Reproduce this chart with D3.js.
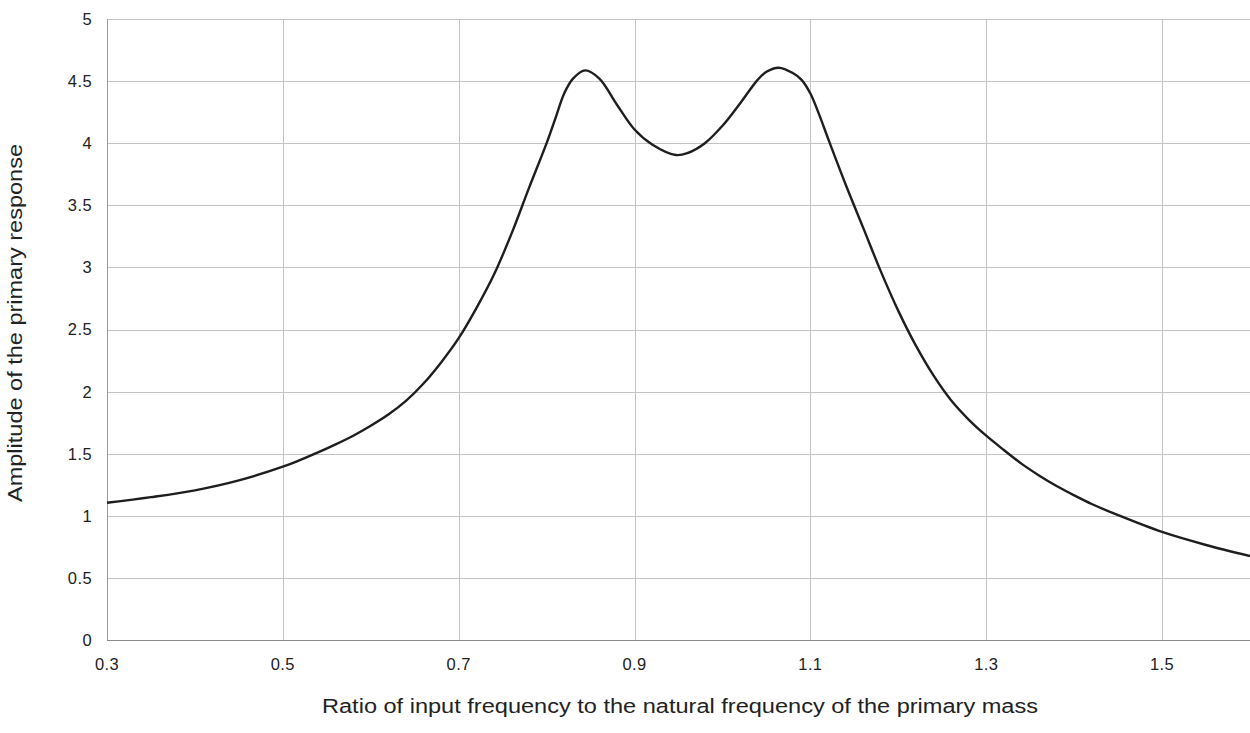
<!DOCTYPE html>
<html>
<head>
<meta charset="utf-8">
<script src="https://cdn.jsdelivr.net/npm/d3@7"></script>
<style>
  html, body { margin: 0; padding: 0; background: #fff; }
  svg { display: block; font-family: "Liberation Sans", Arial, Helvetica, sans-serif; }
</style>
</head>
<body>
<svg id="chart" width="1250" height="733"></svg>
<script>
// Data
const frequencyRatio = [0.30, 0.35, 0.40, 0.45, 0.50, 0.52, 0.54, 0.56, 0.58, 0.60, 0.62, 0.64, 0.66, 0.68, 0.70, 0.72, 0.74, 0.76, 0.78, 0.80, 0.81, 0.82, 0.83, 0.844, 0.86, 0.88, 0.90, 0.92, 0.947, 0.96, 0.98, 1.00, 1.02, 1.04, 1.05, 1.064, 1.08, 1.09, 1.10, 1.11, 1.12, 1.14, 1.16, 1.18, 1.20, 1.22, 1.24, 1.26, 1.28, 1.30, 1.32, 1.34, 1.36, 1.38, 1.40, 1.42, 1.45, 1.50, 1.55, 1.60];
const amplitude = [1.105, 1.15, 1.205, 1.285, 1.395, 1.45, 1.51, 1.575, 1.645, 1.725, 1.815, 1.925, 2.065, 2.235, 2.43, 2.67, 2.94, 3.27, 3.64, 4.00, 4.20, 4.40, 4.52, 4.586, 4.52, 4.31, 4.11, 3.99, 3.905, 3.92, 4.0, 4.14, 4.32, 4.51, 4.575, 4.608, 4.565, 4.51, 4.40, 4.23, 4.04, 3.67, 3.32, 2.97, 2.65, 2.37, 2.13, 1.93, 1.775, 1.645, 1.53, 1.42, 1.325, 1.24, 1.165, 1.095, 1.005, 0.87, 0.765, 0.676];
const xTicks = [0.3, 0.5, 0.7, 0.9, 1.1, 1.3, 1.5];
const yTicks = [0, 0.5, 1, 1.5, 2, 2.5, 3, 3.5, 4, 4.5, 5];
const xTitle = "Ratio of input frequency to the natural frequency of the primary mass";
const yTitle = "Amplitude of the primary response";

const points = frequencyRatio.map((f, i) => ({ f, a: amplitude[i] }));

const svg = d3.select("#chart");
const margin = { left: 107, right: 0, top: 19, bottom: 93 };
const W = 1250, H = 733;

const x = d3.scaleLinear().domain([0.3, 1.6]).range([margin.left, W - margin.right]);
const y = d3.scaleLinear().domain([0, 5]).range([H - margin.bottom, margin.top]);

// horizontal gridlines
svg.append("g").selectAll("line").data(yTicks.filter(d => d > 0)).join("line")
  .attr("x1", x(0.3)).attr("x2", x(1.6))
  .attr("y1", d => Math.round(y(d)) + 0.5).attr("y2", d => Math.round(y(d)) + 0.5)
  .attr("stroke", "#c4c4c4").attr("stroke-width", 1);

// vertical gridlines
svg.append("g").selectAll("line").data(xTicks.filter(d => d > 0.3)).join("line")
  .attr("x1", d => Math.round(x(d)) + 0.5).attr("x2", d => Math.round(x(d)) + 0.5)
  .attr("y1", y(5)).attr("y2", y(0))
  .attr("stroke", "#c4c4c4").attr("stroke-width", 1);

// axes lines
svg.append("line")
  .attr("x1", Math.round(x(0.3)) + 0.5).attr("x2", Math.round(x(0.3)) + 0.5)
  .attr("y1", y(5)).attr("y2", y(0))
  .attr("stroke", "#9a9a9a").attr("stroke-width", 1);
svg.append("line")
  .attr("x1", x(0.3)).attr("x2", x(1.6))
  .attr("y1", Math.round(y(0)) + 0.5).attr("y2", Math.round(y(0)) + 0.5)
  .attr("stroke", "#8a8a8a").attr("stroke-width", 1.2);

// y tick labels
svg.append("g").selectAll("text").data(yTicks).join("text")
  .attr("x", 92).attr("y", d => y(d))
  .attr("dy", "0.36em")
  .attr("text-anchor", "end")
  .attr("font-size", 16.5).attr("letter-spacing", 0.4).attr("fill", "#222")
  .text(d => d);

// x tick labels
svg.append("g").selectAll("text").data(xTicks).join("text")
  .attr("x", d => x(d)).attr("y", 670)
  .attr("text-anchor", "middle")
  .attr("font-size", 16.5).attr("letter-spacing", 0.4).attr("fill", "#222")
  .text(d => d);

// curve
const line = d3.line().x(d => x(d.f)).y(d => y(d.a)).curve(d3.curveCatmullRom.alpha(0.5));
svg.append("path").datum(points)
  .attr("d", line)
  .attr("fill", "none").attr("stroke", "#1e1e1e").attr("stroke-width", 2.4)
  .attr("stroke-linejoin", "round");

// axis titles
svg.append("text")
  .attr("x", 680).attr("y", 713)
  .attr("text-anchor", "middle")
  .attr("font-size", 20).attr("fill", "#222")
  .attr("textLength", 716).attr("lengthAdjust", "spacingAndGlyphs")
  .text(xTitle);
svg.append("text")
  .attr("transform", "translate(22,323) rotate(-90)")
  .attr("text-anchor", "middle")
  .attr("font-size", 20).attr("fill", "#222")
  .attr("textLength", 358).attr("lengthAdjust", "spacingAndGlyphs")
  .text(yTitle);
</script>
</body>
</html>
